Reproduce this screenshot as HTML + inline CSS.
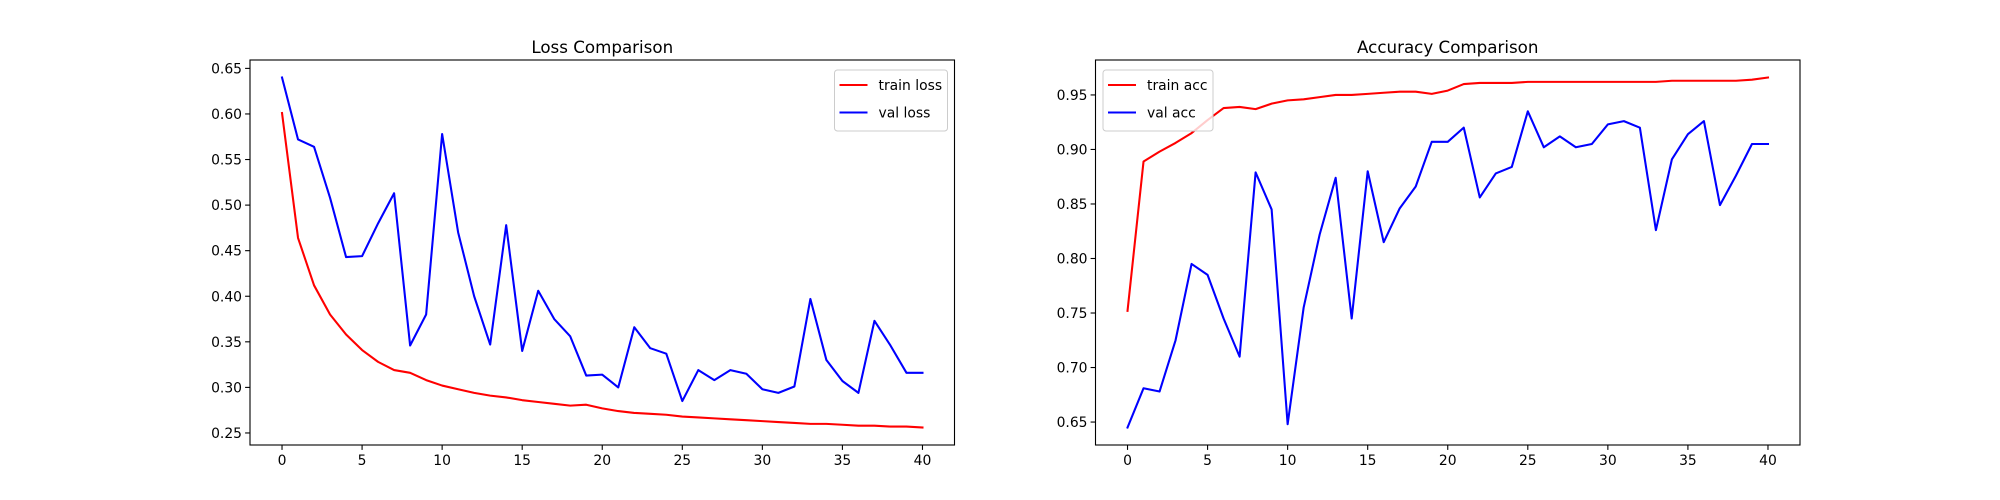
<!DOCTYPE html>
<html><head><meta charset="utf-8"><style>
html,body{margin:0;padding:0;background:#fff;}
svg{display:block;font-family:"DejaVu Sans","Liberation Sans",sans-serif;}
</style></head><body>
<svg id="fig" width="2000" height="500" viewBox="0 0 2000 500" xmlns="http://www.w3.org/2000/svg"></svg>
<script>
const epochs = Array.from({length:41},(_,i)=>i);
const trainLoss = [0.601,0.464,0.412,0.380,0.358,0.341,0.328,0.319,0.316,0.308,0.302,0.298,0.294,0.291,0.289,0.286,0.284,0.282,0.280,0.281,0.277,0.274,0.272,0.271,0.270,0.268,0.267,0.266,0.265,0.264,0.263,0.262,0.261,0.260,0.260,0.259,0.258,0.258,0.257,0.257,0.256];
const valLoss = [0.640,0.572,0.564,0.508,0.443,0.444,0.480,0.513,0.346,0.380,0.578,0.470,0.400,0.347,0.478,0.340,0.406,0.375,0.356,0.313,0.314,0.300,0.366,0.343,0.337,0.285,0.319,0.308,0.319,0.315,0.298,0.294,0.301,0.397,0.330,0.307,0.294,0.373,0.346,0.316,0.316];
const trainAcc = [0.752,0.889,0.898,0.906,0.915,0.927,0.938,0.939,0.937,0.942,0.945,0.946,0.948,0.950,0.950,0.951,0.952,0.953,0.953,0.951,0.954,0.960,0.961,0.961,0.961,0.962,0.962,0.962,0.962,0.962,0.962,0.962,0.962,0.962,0.963,0.963,0.963,0.963,0.963,0.964,0.966];
const valAcc = [0.645,0.681,0.678,0.725,0.795,0.785,0.745,0.710,0.879,0.845,0.648,0.755,0.822,0.874,0.745,0.880,0.815,0.846,0.866,0.907,0.907,0.920,0.856,0.878,0.884,0.935,0.902,0.912,0.902,0.905,0.923,0.926,0.920,0.826,0.891,0.914,0.926,0.849,0.876,0.905,0.905];
const xTicks = [0,5,10,15,20,25,30,35,40];
const lossTicks = ["0.25","0.30","0.35","0.40","0.45","0.50","0.55","0.60","0.65"];
const accTicks = ["0.65","0.70","0.75","0.80","0.85","0.90","0.95"];

const NS="http://www.w3.org/2000/svg";
const svg=document.getElementById('fig');
function mk(tag,attrs,parent){const e=document.createElementNS(NS,tag);for(const k in attrs)e.setAttribute(k,attrs[k]);(parent||svg).appendChild(e);return e;}

function drawChart(cfg){
  const g=mk('g',{});
  
  
  const L=cfg.x0,R=cfg.x1,T=60,B=445;
  const all=cfg.series.flatMap(s=>s.data);
  const mn=Math.min(...all),mx=Math.max(...all),pad=(mx-mn)*0.05;
  const y0=mn-pad,y1=mx+pad;
  const xs=v=>L+(v+2)/44*(R-L);
  const ys=v=>B-(v-y0)/(y1-y0)*(B-T);
  // title
  const t=mk('text',{x:(L+R)/2,y:T-7,'text-anchor':'middle','font-size':'16.7px',fill:'#000'},g);
  t.textContent=cfg.title;
  
  
  // x ticks
  xTicks.forEach(v=>{
    const x=xs(v);
    mk('line',{x1:x,x2:x,y1:B,y2:B+4.9,stroke:'#000','stroke-width':1.1},g);
    const tx=mk('text',{x:x,y:B+20,'text-anchor':'middle','font-size':'13.9px',fill:'#000'},g);
    tx.textContent=v;
    
    
  });
  cfg.yTicks.forEach(s=>{
    const y=ys(parseFloat(s));
    mk('line',{x1:L-4.9,x2:L,y1:y,y2:y,stroke:'#000','stroke-width':1.1},g);
    const ty=mk('text',{x:L-8,y:y+5,'text-anchor':'end','font-size':'13.9px',fill:'#000'},g);
    ty.textContent=s;
    
    
  });
  cfg.series.forEach(s=>{
    const p=mk('polyline',{points:s.data.map((v,i)=>xs(epochs[i])+','+ys(v)).join(' '),fill:'none',stroke:s.color,'stroke-width':2.08,'stroke-linejoin':'round','stroke-linecap':'square'},g);
    
    
  });
  const frame=mk('rect',{x:L,y:T,width:R-L,height:B-T,fill:'none',stroke:'#000','stroke-width':1.1},g);
  
  
  // legend
  const lx=cfg.legendX,ly=70;
  const lg=mk('g',{},g);
  
  
  mk('rect',{x:lx,y:ly,width:cfg.legendW,height:61,rx:3,fill:'#fff','fill-opacity':0.8,stroke:'#ccc','stroke-width':1},lg);
  cfg.series.forEach((s,i)=>{
    const yy=ly+15+i*27.5;
    mk('line',{x1:lx+5,x2:lx+33,y1:yy,y2:yy,stroke:s.color,'stroke-width':2.08},lg);
    const lt=mk('text',{x:lx+44,y:yy+5,'font-size':'13.9px',fill:'#000'},lg);
    lt.textContent=s.label;
    
    
  });
}
drawChart({name:'loss-chart',title:'Loss Comparison',x0:250,x1:954.5,yTicks:lossTicks,legendX:834.5,legendW:113,
  series:[{label:'train loss',data:trainLoss,color:'#ff0000'},{label:'val loss',data:valLoss,color:'#0000ff'}]});
drawChart({name:'accuracy-chart',title:'Accuracy Comparison',x0:1095.5,x1:1800,yTicks:accTicks,legendX:1103,legendW:110,
  series:[{label:'train acc',data:trainAcc,color:'#ff0000'},{label:'val acc',data:valAcc,color:'#0000ff'}]});
</script>
</body></html>
